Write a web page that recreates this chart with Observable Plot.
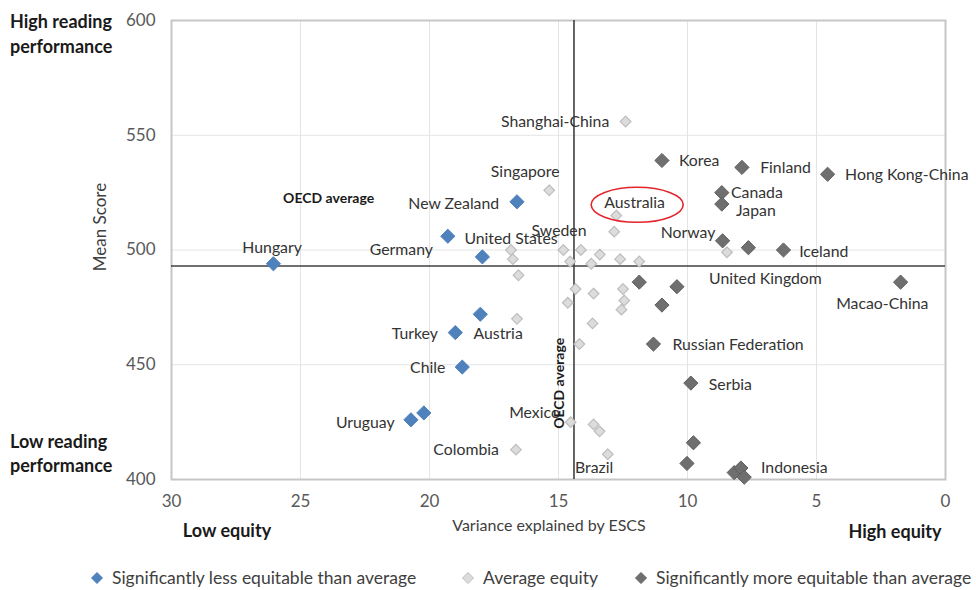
<!DOCTYPE html>
<html>
<head>
<meta charset="utf-8">
<script src="https://cdn.jsdelivr.net/npm/d3@7"></script>
<script src="https://cdn.jsdelivr.net/npm/@observablehq/plot@0.6"></script>
<style>
  html, body { margin: 0; padding: 0; background: #fff; }
  #wrap { position: relative; width: 976px; height: 590px; font-family: Lato, "Open Sans", sans-serif; }
  #legend { position: absolute; left: 0; top: 560px; width: 976px; height: 30px; font-size: 17.5px; color: #404040; }
  .item { position: absolute; top: 7px; white-space: nowrap; display: flex; align-items: center; }
  .item svg { margin-right: 8px; }
</style>
</head>
<body>
<div id="wrap">
  <div id="chart"></div>
  <div id="legend"></div>
</div>
<script>
// ---- Data ----
const xTicks = [30, 25, 20, 15, 10, 5, 0];
const yTicks = [400, 450, 500, 550, 600];

const oecdX = 14.4;   // OECD average variance explained by ESCS
const oecdY = 493;    // OECD average mean score

// Significantly less equitable than average
const lessX = [26.05, 16.61, 19.29, 17.95, 18.03, 19.0, 18.73, 20.72, 20.22];
const lessY = [494, 521, 506, 497, 472, 464, 449, 426, 429];

// Average equity
const avgX = [12.40, 15.36, 12.76, 12.84, 16.84, 16.77, 16.55, 16.61, 14.81, 14.55, 14.13, 13.73, 13.40, 12.61, 11.87, 14.34, 13.64, 12.50, 12.45, 12.56, 14.64, 13.68, 14.19, 14.53, 13.64, 13.41, 16.65, 13.09, 8.47];
const avgY = [556, 526, 515, 508, 500, 496, 489, 470, 500, 495, 500, 494, 498, 496, 495, 483, 481, 483, 478, 474, 477, 468, 459, 425, 424, 421, 413, 411, 499];

// Significantly more equitable than average
const moreX = [10.99, 7.89, 4.57, 8.67, 8.67, 8.64, 7.64, 6.28, 11.87, 10.41, 10.99, 1.74, 11.32, 9.87, 9.77, 10.02, 8.19, 7.93, 7.80];
const moreY = [539, 536, 533, 525, 520, 504, 501, 500, 486, 484, 476, 486, 459, 442, 416, 407, 403, 405, 401];

// Country labels
const labelText = ["Shanghai-China","Singapore","New Zealand","United States","Germany","Sweden","Australia","Korea","Finland","Hong Kong-China","Canada","Japan","Norway","Iceland","United Kingdom","Macao-China","Russian Federation","Serbia","Indonesia","Mexico","Colombia","Brazil","Austria","Turkey","Chile","Uruguay","Hungary"];
const labelX = [15.13,16.29,19.06,16.84,21.09,14.98,12.05,9.55,6.2,1.5,7.31,7.35,9.98,4.72,6.98,2.45,8.04,8.34,5.86,15.93,18.58,13.62,17.34,20.57,20.07,22.49,26.1];
const labelY = [555.7,533.9,520.0,504.9,500.1,508.4,520.5,538.7,535.8,532.7,524.8,516.9,507.4,499.2,487.5,476.6,458.7,441.2,405.0,428.8,413.0,405.2,463.4,463.4,448.4,424.7,501.1];

// Highlight (Australia)
const highlightX = [11.95];
const highlightY = [519.7];

const seriesNames = ["Significantly less equitable than average", "Average equity", "Significantly more equitable than average"];
const seriesFill = ["#4f81bd", "#dcdcdc", "#6f6f6f"];
const seriesStroke = ["#4f81bd", "#bdbdbd", "#5f5f5f"];

// ---- Build tables ----
const less = lessX.map((x, i) => ({x, y: lessY[i]}));
const avg = avgX.map((x, i) => ({x, y: avgY[i]}));
const more = moreX.map((x, i) => ({x, y: moreY[i]}));
const labels = labelText.map((t, i) => ({t, x: labelX[i], y: labelY[i]}));
const highlight = highlightX.map((x, i) => ({x, y: highlightY[i]}));

const ellipse = {
  draw(context) {
    const rx = 46, ry = 17.5, k = 0.5523;
    context.moveTo(rx, 0);
    context.bezierCurveTo(rx, k * ry, k * rx, ry, 0, ry);
    context.bezierCurveTo(-k * rx, ry, -rx, k * ry, -rx, 0);
    context.bezierCurveTo(-rx, -k * ry, -k * rx, -ry, 0, -ry);
    context.bezierCurveTo(k * rx, -ry, rx, -k * ry, rx, 0);
    context.closePath();
  }
};

const font = "Lato, 'Open Sans', sans-serif";

const chart = Plot.plot({
  width: 976,
  height: 560,
  marginLeft: 171,
  marginRight: 31,
  marginTop: 20,
  marginBottom: 81,
  style: { fontFamily: font, fontSize: "16px", color: "#404040", background: "#fff", overflow: "visible" },
  x: { domain: [30, 0], ticks: xTicks, label: null },
  y: { domain: [400, 600], ticks: yTicks, label: null },
  marks: [
    Plot.ruleX(xTicks.slice(1, -1), { stroke: "#e4e4e4", strokeWidth: 1 }),
    Plot.ruleY(yTicks.slice(1, -1), { stroke: "#e4e4e4", strokeWidth: 1 }),
    Plot.frame({ stroke: "#c6c6c6", strokeWidth: 2 }),
    Plot.axisX(xTicks, { tickSize: 0, tickPadding: 15, fill: "#595959", fontSize: 17, label: null }),
    Plot.axisY(yTicks, { tickSize: 0, tickPadding: 16, fill: "#595959", fontSize: 17, label: null }),
    Plot.ruleY([oecdY], { stroke: "#404040", strokeWidth: 1.6 }),
    Plot.ruleX([oecdX], { stroke: "#404040", strokeWidth: 1.6 }),
    Plot.dot(avg, { x: "x", y: "y", symbol: "diamond2", r: 4.8, fill: seriesFill[1], stroke: seriesStroke[1], strokeWidth: 1.2 }),
    Plot.dot(more, { x: "x", y: "y", symbol: "diamond2", r: 6.4, fill: seriesFill[2], stroke: seriesStroke[2], strokeWidth: 1 }),
    Plot.dot(less, { x: "x", y: "y", symbol: "diamond2", r: 6.4, fill: seriesFill[0], stroke: seriesStroke[0], strokeWidth: 1 }),
    Plot.text(labels, { x: "x", y: "y", text: "t", fill: "#333", fontSize: 15.8, textAnchor: "middle" }),
    Plot.dot(highlight, { x: "x", y: "y", symbol: ellipse, r: 10, fill: "none", stroke: "#e3242b", strokeWidth: 1.6 }),
    Plot.text(["OECD average"], { x: [23.91], y: [522.4], fontWeight: "bold", fontSize: 14, fill: "#1a1a1a" }),
    Plot.text(["OECD average"], { x: [14.97], y: [441.9], rotate: -90, fontWeight: "bold", fontSize: 14, fill: "#1a1a1a" })
  ]
});

const svg = d3.select(chart);
const add = (txt, x, y, opts = {}) => {
  const t = svg.append("text")
    .attr("x", x).attr("y", y)
    .attr("font-family", font)
    .attr("font-size", opts.size || 17.5)
    .attr("font-weight", opts.bold ? "bold" : null)
    .attr("fill", opts.fill || "#1a1a1a")
    .attr("text-anchor", opts.anchor || "start")
    .attr("dominant-baseline", "middle")
    .text(txt);
  if (opts.rotate) t.attr("transform", `rotate(${opts.rotate},${x},${y})`);
  return t;
};
add("High reading", 10, 23, { bold: true, size: 18 });
add("performance", 10, 48, { bold: true, size: 18 });
add("Low reading", 10, 443, { bold: true, size: 18 });
add("performance", 10, 467, { bold: true, size: 18 });
add("Low equity", 227, 532, { bold: true, anchor: "middle", size: 18 });
add("High equity", 895, 533, { bold: true, anchor: "middle", size: 18 });
add("Variance explained by ESCS", 549, 527, { anchor: "middle", fill: "#404040", size: 16 });
add("Mean Score", 102, 227, { anchor: "middle", rotate: -90, fill: "#404040", size: 17 });

document.getElementById("chart").appendChild(chart);

// Legend
const legend = document.getElementById("legend");
const legendLeft = [90, 461, 634];
seriesNames.forEach((name, i) => {
  const item = document.createElement("div");
  item.className = "item";
  item.style.left = legendLeft[i] + "px";
  item.innerHTML = `<svg width="14" height="14" viewBox="-7 -7 14 14"><path d="M0,-5.5L5.5,0L0,5.5L-5.5,0Z" fill="${seriesFill[i]}" stroke="${seriesStroke[i]}" stroke-width="1"/></svg><span>${name}</span>`;
  legend.appendChild(item);
});
</script>
</body>
</html>
